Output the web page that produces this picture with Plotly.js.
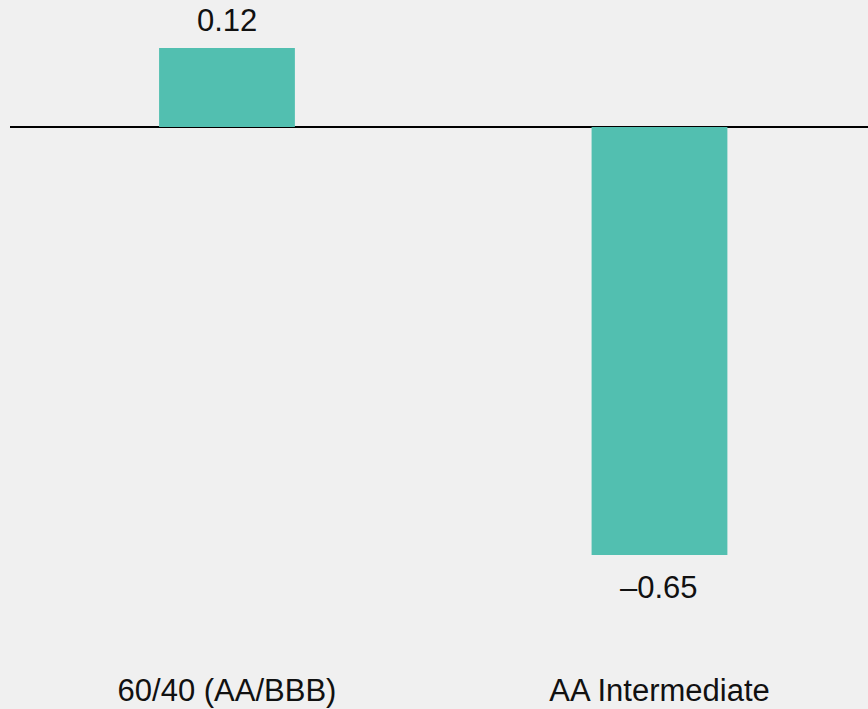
<!DOCTYPE html>
<html>
<head>
<meta charset="utf-8">
<script src="https://cdn.plot.ly/plotly-3.0.1.min.js"></script>
<style>
html,body{margin:0;padding:0;background:#f0f0f0;}
#chart{width:868px;height:709px;}
</style>
</head>
<body>
<div id="chart"></div>
<script>
const categories = ["60/40 (AA/BBB)", "AA Intermediate"];
const values = [0.12, -0.65];

function fmt(v) {
  const s = Math.abs(v).toFixed(2);
  return v < 0 ? "\u2013" + s : s;
}

const FONT = "Liberation Sans, Arial, sans-serif";
const teal = "#52bfb0";

const trace = {
  type: "bar",
  x: categories.map((c, i) => i),
  y: values,
  width: 0.314,
  marker: {color: teal, line: {width: 0}},
  hoverinfo: "skip"
};

const annotations = values.map((v, i) => ({
  x: i,
  y: v,
  xref: "x",
  yref: "y",
  text: fmt(v),
  showarrow: false,
  yanchor: v >= 0 ? "bottom" : "top",
  yshift: v >= 0 ? 8 : -13,
  font: {family: FONT, size: 31, color: "#111111"}
}));

const layout = {
  width: 868,
  height: 709,
  paper_bgcolor: "#f0f0f0",
  plot_bgcolor: "#f0f0f0",
  margin: {l: 10, r: 0, t: 0, b: 40},
  showlegend: false,
  xaxis: {
    range: [-0.5017, 1.4821],
    tickmode: "array",
    tickvals: categories.map((c, i) => i),
    ticktext: categories,
    showgrid: false,
    zeroline: false,
    showline: false,
    ticks: "",
    tickfont: {family: FONT, size: 31, color: "#111111"},
    fixedrange: true
  },
  yaxis: {
    range: [-0.8233, 0.1929],
    showgrid: false,
    showticklabels: false,
    ticks: "",
    zeroline: true,
    zerolinecolor: "#000000",
    zerolinewidth: 2,
    showline: false,
    fixedrange: true
  },
  annotations: annotations
};

Plotly.newPlot("chart", [trace], layout, {staticPlot: true, displayModeBar: false});
</script>
</body>
</html>
